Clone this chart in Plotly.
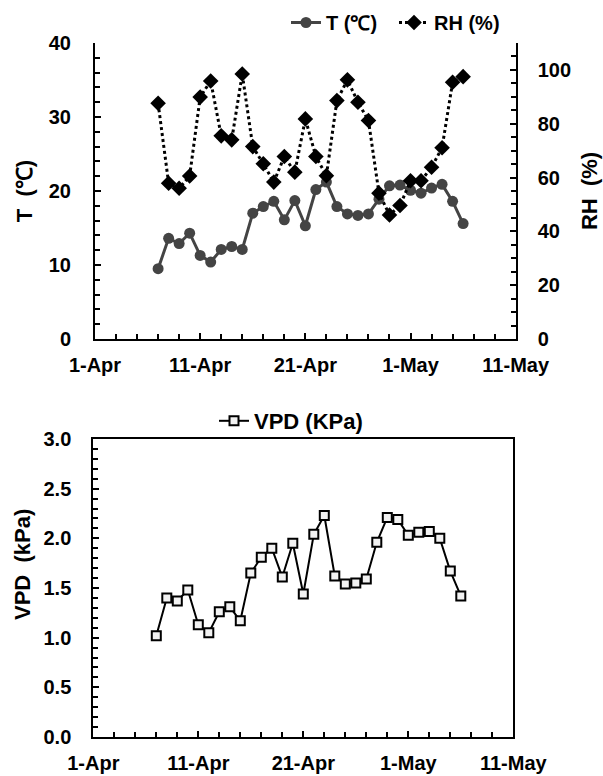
import plotly.graph_objects as go

# Daily observations, 7 April - 6 May
dates = [
    "2021-04-07", "2021-04-08", "2021-04-09", "2021-04-10", "2021-04-11",
    "2021-04-12", "2021-04-13", "2021-04-14", "2021-04-15", "2021-04-16",
    "2021-04-17", "2021-04-18", "2021-04-19", "2021-04-20", "2021-04-21",
    "2021-04-22", "2021-04-23", "2021-04-24", "2021-04-25", "2021-04-26",
    "2021-04-27", "2021-04-28", "2021-04-29", "2021-04-30", "2021-05-01",
    "2021-05-02", "2021-05-03", "2021-05-04", "2021-05-05", "2021-05-06",
]

# Air temperature (°C)
temp_c = [
    9.5, 13.6, 12.9, 14.3, 11.3, 10.4, 12.1, 12.5, 12.1, 17.0,
    17.9, 18.6, 16.1, 18.7, 15.3, 20.2, 21.2, 17.9, 16.9, 16.7,
    16.9, 18.9, 20.7, 20.8, 20.1, 19.7, 20.4, 20.9, 18.6, 15.6,
]

# Relative humidity (%)
rh_pct = [
    87.6, 57.9, 56.0, 60.6, 89.9, 95.9, 75.5, 74.0, 98.5, 71.5,
    65.1, 58.3, 67.8, 62.0, 81.8, 67.8, 60.7, 88.6, 96.3, 88.0,
    81.2, 54.2, 46.1, 49.6, 58.8, 58.8, 63.8, 71.1, 95.4, 97.5,
]

# Vapour pressure deficit (kPa)
vpd_kpa = [
    1.02, 1.40, 1.37, 1.48, 1.13, 1.05, 1.26, 1.31, 1.17, 1.65,
    1.81, 1.90, 1.61, 1.95, 1.44, 2.04, 2.23, 1.62, 1.54, 1.55,
    1.59, 1.96, 2.21, 2.19, 2.03, 2.06, 2.07, 2.00, 1.67, 1.42,
]

x_range = ["2021-04-01", "2021-05-11"]
DAY_MS = 86400000

W, H = 603, 776


def fx(px):
    return px / W


def fy(py):
    return 1 - py / H


FONT = "Liberation Sans, Arial, sans-serif"
tick_font = dict(family=FONT, size=20, color="black", weight="bold")
title_font = dict(family=FONT, size=22, color="black", weight="bold")
legend_font = dict(family=FONT, size=20, color="black", weight="bold")

fig = go.Figure()

fig.add_trace(go.Scatter(
    x=dates, y=temp_c, name="T (℃)", mode="lines+markers",
    line=dict(color="#444444", width=3),
    marker=dict(symbol="circle", size=11, color="#444444"),
    xaxis="x", yaxis="y", legend="legend",
))
fig.add_trace(go.Scatter(
    x=dates, y=rh_pct, name="RH (%)", mode="lines+markers",
    line=dict(color="black", width=3, dash="dot"),
    marker=dict(symbol="diamond", size=12, color="black"),
    xaxis="x", yaxis="y2", legend="legend",
))
fig.add_trace(go.Scatter(
    x=dates, y=vpd_kpa, name="VPD (KPa)", mode="lines+markers",
    line=dict(color="black", width=2),
    marker=dict(symbol="square", size=9, color="#f2f2f2",
                line=dict(color="black", width=2)),
    xaxis="x2", yaxis="y3", legend="legend2",
))

axis_common = dict(
    showgrid=False, zeroline=False, showline=True, linecolor="black",
    linewidth=2, ticks="inside", ticklen=6, tickwidth=1.5, tickcolor="black",
    tickfont=tick_font, automargin=False,
)

date_axis = dict(
    axis_common, type="date", range=x_range, tick0=x_range[0],
    dtick=10 * DAY_MS, tickformat="%-d-%b", ticklabelstandoff=7,
    minor=dict(dtick=2 * DAY_MS, tick0=x_range[0], ticks="inside",
               ticklen=5, tickwidth=1.5, tickcolor="black"),
)

fig.update_layout(
    width=W, height=H,
    margin=dict(l=0, r=0, t=0, b=0),
    paper_bgcolor="white", plot_bgcolor="white",
    font=dict(family=FONT, color="black"),
    showlegend=True,
    xaxis=dict(date_axis, domain=[fx(95), fx(515.7)], anchor="y"),
    yaxis=dict(
        axis_common, domain=[fy(339), fy(43)], range=[0, 40], dtick=10,
        ticklabelstandoff=18,
        minor=dict(dtick=2, ticks="inside", ticklen=5, tickwidth=1.5,
                   tickcolor="black"),
        title=dict(text="T  (℃)", font=title_font, standoff=10),
        anchor="x",
    ),
    yaxis2=dict(
        axis_common, overlaying="y", side="right", range=[0, 110], dtick=20,
        ticklabelstandoff=16,
        minor=dict(dtick=5, ticks="inside", ticklen=5, tickwidth=1.5,
                   tickcolor="black"),
        title=dict(text="RH  (%)", font=title_font, standoff=12),
        anchor="x",
    ),
    xaxis2=dict(date_axis, domain=[fx(93.3), fx(513.3)], anchor="y3",
                mirror=True),
    yaxis3=dict(
        axis_common, domain=[fy(737), fy(439)], range=[0, 3.0], dtick=0.5,
        tickformat=".1f", ticklabelstandoff=16, mirror=True,
        minor=dict(dtick=0.1, ticks="inside", ticklen=5, tickwidth=1.5,
                   tickcolor="black"),
        anchor="x2",
    ),
    legend=dict(
        orientation="h", x=fx(286), y=fy(3), xanchor="left", yanchor="top",
        font=legend_font, bgcolor="rgba(0,0,0,0)", itemwidth=30,
        entrywidth=63,
    ),
    legend2=dict(
        orientation="h", x=fx(214), y=fy(400), xanchor="left", yanchor="top",
        font=dict(legend_font, size=22), bgcolor="rgba(0,0,0,0)",
        itemwidth=30,
    ),
    annotations=[
        dict(
            text="VPD  (kPa)", textangle=-90, font=title_font,
            xref="paper", yref="paper", x=fx(22), y=fy(565),
            xanchor="center", yanchor="middle", showarrow=False,
        ),
    ],
)

fig.write_html("out.html")
